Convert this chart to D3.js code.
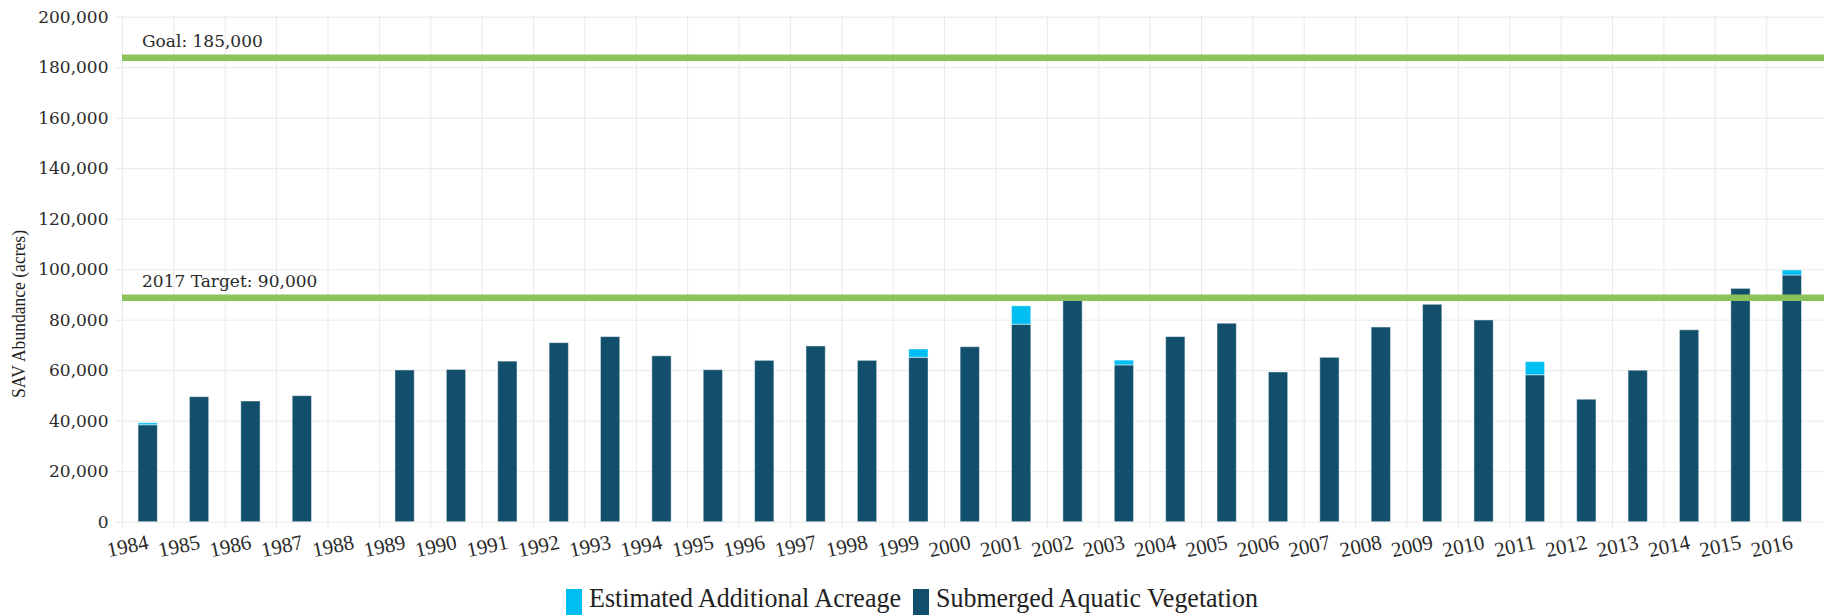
<!DOCTYPE html>
<html><head><meta charset="utf-8">
<script src="https://cdn.jsdelivr.net/npm/d3@7"></script>
<style>body{margin:0;background:#fff;overflow:hidden}</style>
</head><body><svg id="c" width="1824" height="615"></svg>
<script>
// ---- data ----
const years = [1984,1985,1986,1987,1988,1989,1990,1991,1992,1993,1994,1995,1996,1997,1998,1999,2000,
               2001,2002,2003,2004,2005,2006,2007,2008,2009,2010,2011,2012,2013,2014,2015,2016];
const savAcres = [38400,49500,47800,49900,null,60100,60300,63600,70900,73300,65700,60200,63900,69600,63900,65100,69300,
                  78200,89700,62100,73300,78600,59300,65100,77100,86100,79900,58200,48500,60000,76000,92400,97700];
const estAdditional = [800,0,0,0,null,0,0,0,0,0,0,0,0,0,0,3300,0,
                       7300,0,1900,0,0,0,0,0,0,0,5200,0,0,0,0,2000];
const yTicks = [0,20000,40000,60000,80000,100000,120000,140000,160000,180000,200000];
const goals = [{label:"Goal: 185,000", value:185000},{label:"2017 Target: 90,000", value:90000}];
const legendItems = [{label:"Estimated Additional Acreage", color:"#00bef2", w:312},{label:"Submerged Aquatic Vegetation", color:"#124f6c", w:322}];
const yTitle = "SAV Abundance (acres)";

(function(){
// ---- layout ----
const W = 1824;
const mLeft = 122, mTop = 16.7, mBottom = 521.7;
const svg = d3.select("#c");
const x = d3.scaleLinear().domain([1984, 2017]).range([mLeft, mLeft + 33*51.38]);
const y = d3.scaleLinear().domain([0, 200000]).range([mBottom, mTop]);
const serif = "'DejaVu Serif', serif";
const tserif = "'Liberation Serif', 'Times New Roman', serif";
const gridColor = "#e9e9e9";

// y axis + horizontal grid
const ya = svg.append("g").attr("transform", `translate(${mLeft},0)`)
  .call(d3.axisLeft(y).tickValues(yTicks).tickFormat(d3.format(",")).tickSizeOuter(0));
ya.select(".domain").remove();
ya.selectAll(".tick line").attr("x1", -6).attr("x2", W - mLeft).attr("stroke", gridColor);
ya.selectAll(".tick text").attr("x", -13.5).attr("dy", "0.34em")
  .attr("font-family", serif).attr("font-size", 17).attr("fill", "#2a2a2a");

// x axis + vertical grid
const xa = svg.append("g").attr("transform", `translate(0,${mBottom})`)
  .call(d3.axisBottom(x).tickValues(years).tickFormat(d3.format("d")).tickSizeOuter(0));
xa.select(".domain").remove();
xa.selectAll(".tick line").attr("y1", 6).attr("y2", y(200000) - mBottom).attr("stroke", gridColor);
xa.selectAll(".tick text").attr("y", 0)
  .attr("transform", "translate(5,24) rotate(-12)")
  .attr("dy", "0.35em").attr("text-anchor", "middle")
  .attr("font-family", tserif).attr("font-size", 21).attr("fill", "#2a2a2a");

// bars
const step = x(1985) - x(1984);
const bw = 0.375 * step;
const rows = years.map((yr, i) => ({yr, sav: savAcres[i], est: estAdditional[i]})).filter(d => d.sav != null);
const bars = svg.append("g");
bars.selectAll("rect.sav").data(rows).join("rect").attr("class", "sav")
  .attr("x", d => x(d.yr + 0.5) - bw/2).attr("width", bw)
  .attr("y", d => y(d.sav)).attr("height", d => y(0) - y(d.sav))
  .attr("fill", legendItems[1].color).attr("stroke", "#ffffff").attr("stroke-opacity", 0.45).attr("stroke-width", 1);
bars.selectAll("rect.est").data(rows.filter(d => d.est > 0)).join("rect").attr("class", "est")
  .attr("x", d => x(d.yr + 0.5) - bw/2).attr("width", bw)
  .attr("y", d => y(d.sav + d.est)).attr("height", d => y(d.sav) - y(d.sav + d.est))
  .attr("fill", legendItems[0].color).attr("stroke", "#ffffff").attr("stroke-opacity", 0.45).attr("stroke-width", 1);

// goal lines
const gl = svg.append("g");
gl.selectAll("line").data(goals).join("line")
  .attr("x1", mLeft).attr("x2", W)
  .attr("y1", d => y(d.value) + 3.2).attr("y2", d => y(d.value) + 3.2)
  .attr("stroke", "#8bc25a").attr("stroke-width", 6.5);
gl.selectAll("text").data(goals).join("text")
  .attr("x", mLeft + 20).attr("y", d => y(d.value) - 7.5)
  .attr("font-family", serif).attr("font-size", 17).attr("fill", "#2a2a2a")
  .text(d => d.label);

// y title
svg.append("text").attr("transform", "translate(25,314) rotate(-90)")
  .attr("text-anchor", "middle").attr("font-family", tserif).attr("font-size", 19).attr("fill", "#222")
  .attr("textLength", 168).attr("lengthAdjust", "spacingAndGlyphs")
  .text(yTitle);

// legend
const lg = svg.append("g");
const sw = 16, gapText = 7, gapItem = 12, fs = 27;
let cx = 0;
legendItems.forEach(it => {
  const g = lg.append("g").attr("transform", `translate(${cx},0)`);
  g.append("rect").attr("x", 0).attr("y", 589).attr("width", sw).attr("height", 30).attr("fill", it.color);
  g.append("text").attr("x", sw + gapText).attr("y", 607)
    .attr("font-family", tserif).attr("font-size", fs).attr("fill", "#222")
    .attr("textLength", it.w).attr("lengthAdjust", "spacingAndGlyphs").text(it.label);
  cx += sw + gapText + it.w + gapItem;
});
const total = cx - gapItem;
lg.attr("transform", `translate(${W/2 - total/2},0)`);
})();
</script></body></html>
